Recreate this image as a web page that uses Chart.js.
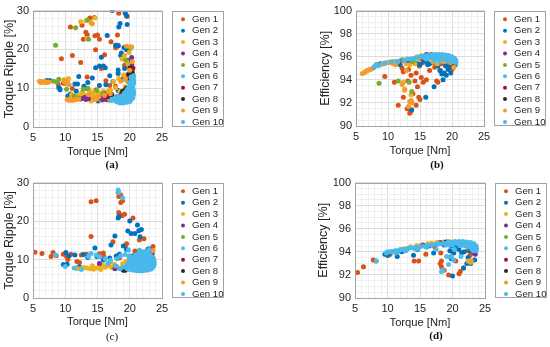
<!DOCTYPE html>
<html>
<head>
<meta charset="utf-8">
<script src="https://cdn.jsdelivr.net/npm/chart.js@4"></script>
<style>
body { margin: 0; background: #fff; width: 550px; height: 347px; position: relative; overflow: hidden; }
canvas { position: absolute; }
.cap { position: absolute; font-family: 'Liberation Serif', 'Times New Roman', serif; font-size: 11px; font-weight: bold; color: #111; transform: translate(-50%, -50%); }
</style>
</head>
<body>
<canvas id="pa" width="275" height="160" style="left:0;top:0"></canvas>
<canvas id="pb" width="275" height="160" style="left:275px;top:0"></canvas>
<canvas id="pc" width="275" height="160" style="left:0;top:172px"></canvas>
<canvas id="pd" width="275" height="160" style="left:275px;top:172px"></canvas>
<div class="cap" style="left:112px;top:164px">(a)</div>
<div class="cap" style="left:437px;top:164px">(b)</div>
<div class="cap" style="left:112px;top:336px;font-weight:normal">(c)</div>
<div class="cap" style="left:436px;top:335px">(d)</div>
<script>
Chart.defaults.font.family = "'Liberation Sans', Arial, sans-serif";
Chart.defaults.color = '#262626';

const gens = ['Gen 1', 'Gen 2', 'Gen 3', 'Gen 4', 'Gen 5', 'Gen 6', 'Gen 7', 'Gen 8', 'Gen 9', 'Gen 10'];
const colors = ['#D95319', '#0072BD', '#EDB120', '#7E2F8E', '#77AC30', '#4DBEEE', '#A2142F', '#2b2b2b', '#F59B2A', '#48B9EA'];

// (a) torque [Nm] vs torque ripple [%]
const rippleA = [
    [[18.3,29.3],[19.6,28.5],[13.8,28.1],[14.5,28.2],[12.6,26.2],[10.8,25.8],[13.2,24.4],[13.4,23.8],[14.6,23.5],[15.0,23.7],
     [12.8,22.6],[15.3,22.6],[17.1,22.0],[18.1,23.7],[18.2,21.1],[14.7,19.9],[17.8,20.4],[19.7,20.4],[11.1,18.4],[9.4,17.6],
     [16.1,18.6],[12.4,16.6],[15.6,15.1],[19.2,15.9],[13.4,12.9],[16.3,11.9],[8.9,11.1],[9.7,11.3],[10.2,11.2],[11.1,9.9],
     [14.8,9.6],[16.9,10.7],[16.4,8.8],[12.6,8.8],[15.3,7.5],[19.1,13.2],[20.0,12.6],[19.5,10.0],[17.8,10.5]],
    [[17.3,30.0],[19.3,29.3],[19.5,28.7],[18.5,26.7],[18.3,25.8],[19.6,26.4],[16.5,23.6],[17.8,21.1],[18.2,20.9],[19.1,20.5],
     [19.5,19.9],[18.7,19.1],[18.6,18.4],[15.6,18.0],[15.3,15.7],[15.9,15.7],[16.2,15.3],[14.7,15.3],[16.9,13.2],[18.2,14.7],
     [18.2,13.8],[12.1,13.0],[13.5,11.5],[11.5,11.1],[11.9,11.1],[7.6,12.0],[7.1,12.0],[9.0,10.2],[9.2,9.6],[9.1,9.9],
     [10.8,8.5],[10.4,8.0],[11.7,9.2],[13.3,9.9],[15.3,10.7],[16.3,10.9],[13.8,8.4],[15.1,6.7],[17.4,11.7],[18.7,12.2],
     [19.2,15.1],[19.7,17.2],[18.2,9.4],[16.8,9.2],[14.2,12.6],[12.9,10.5]],
    [[12.4,27.1],[13.2,27.4],[14.6,28.1],[13.4,22.8],[20.1,20.7],[19.2,18.4],[19.5,16.9],[18.8,17.5],[19.9,19.2],[17.5,11.7],
     [19.1,13.4],[18.3,12.5],[10.5,7.1],[10.9,7.5],[11.3,7.2],[11.6,7.8],[12.0,8.1],[12.3,7.4],[12.7,7.9],[13.1,8.2],
     [13.5,7.6],[13.8,7.2],[14.1,7.8],[14.3,8.4],[14.6,7.0],[14.8,7.6],[15.0,8.2],[15.1,8.9],[15.3,7.3],[15.5,8.0],
     [15.7,8.6],[15.9,9.2],[16.1,7.7],[16.4,8.4],[16.7,9.0],[17.0,9.5],[14.4,9.1],[13.7,9.4],[12.6,8.8],[11.0,8.4],
     [10.5,12.5],[10.4,11.9],[18.5,9.2],[19.3,10.4],[19.6,11.8],[20.2,14.2],[20.0,12.9],[17.8,10.1],[14.0,6.7],[15.6,6.9]],
    [[12.4,7.2],[12.8,7.4],[13.2,7.1],[13.6,7.3],[13.0,7.6],[15.8,7.0],[16.1,7.3],[16.4,7.0],[16.6,7.5],[16.9,7.2],
     [17.2,7.0],[16.3,7.8],[16.8,8.0],[17.4,7.6],[17.1,8.4],[16.0,8.6],[15.5,7.4],[17.6,7.1],[18.0,7.8],[20.3,17.9],
     [20.3,16.1],[20.1,15.2],[18.7,8.5],[19.7,9.2]],
    [[8.5,21.1],[11.6,25.6],[13.5,27.6],[13.6,22.6],[8.7,11.6],[9.0,12.3],[8.2,11.8],[10.2,9.7],[11.4,8.0],[12.1,7.5],
     [12.8,9.7],[13.5,10.0],[14.9,9.4],[16.9,6.9],[17.4,7.6],[18.9,8.6],[20.4,14.7],[20.1,20.3],[19.4,17.2],[15.8,8.6]],
    [[18.1,6.6],[18.5,6.2],[19.0,6.2],[19.6,6.4],[20.0,6.6],[20.3,7.8],[19.9,8.8],[20.4,10.2],[20.5,12.4],[17.3,6.9],
     [16.9,7.4],[18.7,7.2],[19.3,7.7],[20.6,9.3]],
    [[19.8,13.6],[20.3,14.1],[20.0,12.2],[19.3,9.6],[16.6,7.8],[20.5,15.2],[18.6,8.1]],
    [[19.9,13.4],[20.2,12.6],[20.4,14.0],[17.2,8.4],[19.5,10.0],[20.0,15.3],[18.9,9.2]],
    [[6.0,11.8],[6.3,11.7],[6.6,11.6],[6.9,11.5],[7.2,11.5],[7.5,11.6],[6.2,11.5],[6.8,11.8],[9.8,12.2],[10.1,12.0],
     [9.9,11.6],[10.3,11.3],[10.6,10.9],[10.3,7.0],[10.6,6.9],[10.9,6.9],[11.2,6.9],[11.5,7.0],[11.8,7.1],[12.1,7.2],
     [14.2,26.6],[14.0,26.9],[13.6,8.4],[14.5,7.5],[15.2,7.8],[16.1,8.2],[17.0,8.6],[19.5,20.8],[20.3,20.6],[19.7,16.3],
     [20.0,14.6],[18.6,11.8],[19.3,12.3],[20.4,16.8]],
    [[17.8,6.8],[18.0,6.5],[18.3,6.4],[18.6,6.3],[18.9,6.3],[19.2,6.4],[19.5,6.5],[19.8,6.7],[20.1,6.9],[20.3,7.2],
     [18.2,7.0],[18.6,6.9],[19.0,6.9],[19.4,7.0],[19.8,7.3],[20.2,7.6],[18.8,7.4],[19.2,7.5],[19.6,7.8],[20.0,8.0],
     [20.4,8.2],[19.3,8.1],[19.7,8.5],[20.1,8.7],[20.4,9.0],[19.5,9.0],[19.8,9.4],[20.2,9.6],[20.5,9.9],[19.9,10.2],
     [20.3,10.5],[20.5,10.9],[20.1,11.0],[20.4,11.5],[20.6,12.0],[20.3,12.2],[20.5,12.7],[20.6,13.2],[20.4,13.0],[17.5,7.2],
     [17.9,7.6],[18.4,7.8],[18.9,8.1],[19.2,8.8],[19.6,9.7],[19.9,11.4],[20.2,12.8],[20.6,11.3],[20.6,8.5],[20.5,7.6]]
];

// (b) torque [Nm] vs efficiency [%]
const effB = [
    [[9.5,94.3],[11.0,93.8],[11.6,91.8],[12.4,92.5],[13.1,93.9],[13.0,91.5],[13.4,91.1],[13.6,91.3],[13.6,94.4],[14.2,93.9],
     [14.4,94.6],[14.6,93.4],[14.8,92.5],[15.0,92.3],[14.4,91.8],[15.2,94.2],[15.5,93.8],[16.5,94.8],[17.1,95.5],[17.3,95.1],
     [17.6,93.9],[17.8,93.8],[18.2,94.8],[18.4,95.4],[13.2,94.9],[12.4,94.7],[11.7,95.4],[18.9,95.8],[19.4,95.4],[15.5,95.5],
     [14.9,95.2],[16.0,94.0],[13.9,92.8],[12.2,95.0],[19.8,95.3],[20.0,94.9]],
    [[8.2,95.3],[8.8,95.4],[13.6,95.6],[14.2,95.45],[14.6,95.4],[15.2,95.5],[16.0,95.6],[16.5,95.4],[17.0,95.9],[17.7,95.9],
     [17.8,95.2],[18.1,94.8],[18.4,94.5],[18.8,94.6],[19.0,95.2],[19.1,94.4],[19.4,94.9],[19.6,95.1],[19.9,95.5],[20.3,95.2],
     [18.6,95.8],[17.2,93.4],[15.9,92.5],[13.7,91.4],[11.9,95.3],[15.0,95.3],[16.2,95.3],[18.6,94.0],[19.8,94.6],[20.5,95.3]],
    [[11.5,95.6],[12.0,95.7],[12.8,95.4],[13.4,95.3],[12.4,93.8],[12.6,93.2],[13.6,92.7],[13.7,92.1],[14.0,95.8],[14.5,96.0],
     [14.9,96.0],[15.3,96.1],[15.6,95.9],[15.0,95.75],[16.0,96.0],[17.0,95.6],[17.7,95.4],[19.2,95.7],[20.2,95.4],[10.8,95.6],
     [14.2,95.4]],
    [[16.0,96.2],[16.4,96.15],[16.8,96.2],[16.2,96.0],[16.6,95.95],[17.1,96.1],[12.2,95.7],[13.1,95.7],[15.4,95.8],[19.9,95.6],
     [20.2,95.7],[18.5,95.9]],
    [[8.6,93.7],[11.6,93.9],[13.3,93.8],[13.7,93.0],[8.0,95.2],[9.4,95.4],[13.8,95.6],[15.5,95.95],[17.6,96.05],[19.5,95.9],
     [20.3,95.5],[12.3,95.75]],
    [[8.3,95.3],[9.0,95.35],[11.3,95.6],[13.0,95.8],[16.0,95.8],[18.0,95.6],[19.0,95.6],[20.5,95.4],[17.2,95.7]],
    [[17.6,96.1],[19.6,95.8],[18.9,96.0],[20.4,95.6]],
    [[17.9,96.1],[20.3,95.3],[18.3,95.9],[16.9,96.1]],
    [[6.0,94.55],[6.2,94.6],[6.4,94.68],[6.6,94.75],[6.8,94.8],[7.0,94.85],[7.2,94.9],[7.4,94.95],[7.7,95.02],[9.3,95.4],
     [9.6,95.45],[9.9,95.5],[10.2,95.5],[10.5,95.55],[10.8,95.4],[11.2,95.3],[12.2,93.6],[12.6,93.1],[13.4,92.1],[13.6,92.2],
     [13.2,91.7],[13.8,92.0],[12.9,94.8],[14.8,95.9],[15.2,96.0],[16.5,96.1],[18.6,95.6],[19.8,95.5],[20.3,95.1]],
    [[14.5,95.9],[15.0,96.0],[15.5,96.05],[16.0,96.1],[16.5,96.15],[17.0,96.2],[17.5,96.2],[18.0,96.2],[18.5,96.2],[19.0,96.15],
     [19.5,96.1],[20.0,96.0],[20.4,95.85],[20.6,95.7],[20.6,95.5],[15.8,95.9],[16.3,95.95],[16.8,96.0],[17.3,96.05],[17.8,96.05],
     [18.3,96.05],[18.8,96.0],[19.3,95.95],[19.8,95.85],[20.2,95.7],[20.4,95.55],[17.5,95.85],[18.0,95.85],[18.5,95.8],[19.0,95.8],
     [19.5,95.7],[20.0,95.6],[16.5,95.9],[17.0,95.9],[13.5,95.8],[14.0,95.85],[12.5,95.7],[11.5,95.6],[10.5,95.55],[9.5,95.45],
     [8.5,95.25],[7.8,95.1]]
];

// (c) torque [Nm] vs torque ripple [%]
const rippleC = [
    [[5.3,11.9],[6.4,11.6],[8.1,11.8],[7.8,10.8],[8.6,11.0],[9.7,11.4],[10.2,10.8],[10.4,10.0],[10.9,11.4],[11.8,9.5],
     [12.5,11.2],[13.3,11.4],[14.0,25.0],[14.8,25.3],[14.0,16.0],[15.3,11.5],[15.9,11.7],[17.4,14.6],[18.2,27.5],[18.3,26.4],
     [18.6,26.8],[18.9,25.3],[18.6,24.8],[18.3,22.2],[18.4,21.8],[19.2,21.8],[20.5,20.8],[19.5,14.1],[19.3,13.6],[22.2,15.4],
     [21.5,15.1],[20.8,12.2],[23.4,11.1],[23.6,13.4],[20.2,10.7],[18.4,10.4],[19.5,9.1],[12.2,9.2],[16.0,10.8],[18.8,21.4]],
    [[9.7,8.7],[10.3,8.8],[10.1,11.8],[10.6,11.0],[11.5,11.2],[12.8,11.3],[13.5,10.5],[14.6,13.0],[16.9,10.4],[15.9,9.9],
     [17.7,16.1],[18.2,20.8],[18.3,21.2],[20.0,20.0],[19.7,17.4],[20.2,16.8],[21.2,19.0],[21.4,17.5],[20.8,16.8],[21.6,15.9],
     [19.5,12.6],[22.8,12.7],[17.1,13.8],[18.4,11.4],[11.8,7.8],[12.2,8.1],[21.8,17.8],[19.0,13.5],[17.9,10.9],[22.5,12.0],
     [23.0,12.8],[23.3,10.5],[20.5,11.0],[14.9,10.8]],
    [[11.8,7.7],[12.4,7.6],[12.9,7.9],[13.4,7.8],[13.9,7.6],[14.4,7.5],[14.9,7.8],[15.3,8.2],[15.8,8.6],[16.2,8.0],
     [16.7,8.4],[17.2,7.9],[17.6,8.7],[18.0,8.2],[18.4,7.7],[18.9,8.9],[19.4,9.4],[19.8,9.8],[20.2,8.6],[20.7,9.2],
     [21.2,10.4],[21.6,9.0],[22.1,11.4],[22.6,12.1],[23.0,10.6],[23.4,9.4],[14.2,8.4],[15.5,7.4],[17.0,9.3],[19.0,7.6]],
    [[15.3,9.0],[17.7,7.6],[19.1,7.4],[20.4,8.0],[21.9,8.5],[22.7,9.9],[23.5,11.7],[23.2,8.2],[21.1,7.8]],
    [[22.4,10.9],[21.6,8.4],[20.9,9.6]],
    [[18.2,28.1],[18.3,27.4],[18.9,26.0],[14.0,11.6],[14.8,11.2],[13.6,10.8],[8.5,11.2],[10.0,8.2],[11.4,7.8],[12.5,7.4],
     [15.3,10.7],[16.2,10.2],[18.6,11.0],[19.3,11.3],[19.9,10.6],[17.0,9.8]],
    [[20.8,9.6],[22.6,11.8],[21.8,10.4],[23.2,9.9]],
    [[19.0,7.2],[19.3,7.2],[22.6,11.3],[23.3,11.0],[21.4,8.8],[22.0,10.1]],
    [[23.4,7.9],[22.8,8.4],[23.6,12.3],[21.0,8.0],[19.6,8.1],[23.7,10.3]],
    [[19.6,7.6],[20.0,7.4],[20.4,7.3],[20.8,7.2],[21.2,7.1],[21.6,7.1],[22.0,7.1],[22.4,7.2],[22.8,7.3],[23.2,7.5],
     [23.5,7.8],[23.7,8.3],[23.8,8.8],[23.8,9.4],[23.7,10.0],[23.5,10.6],[23.2,11.1],[22.8,11.5],[22.4,11.8],[22.0,12.0],
     [21.6,11.8],[21.2,11.4],[20.8,10.9],[20.4,10.3],[20.0,9.6],[19.7,8.9],[19.5,8.2],[20.6,8.2],[21.0,8.0],[21.4,7.9],
     [21.8,7.9],[22.2,8.0],[22.6,8.1],[23.0,8.3],[23.3,8.6],[23.4,9.2],[23.3,9.8],[23.0,10.3],[22.6,10.7],[22.2,11.0],
     [21.8,10.9],[21.4,10.6],[21.0,10.1],[20.7,9.5],[20.4,8.9],[21.0,9.0],[21.5,8.8],[22.0,8.9],[22.5,9.1],[22.9,9.4],
     [22.5,9.8],[22.0,10.1],[21.5,9.8],[22.0,9.5],[21.4,9.3],[22.6,8.6],[20.3,7.9],[19.9,8.4],[22.9,12.3],[21.5,12.4],
     [18.5,7.6],[18.9,8.0],[17.8,8.3],[16.6,9.0],[20.0,11.0],[19.8,12.5],[18.0,10.2],[23.0,12.6]]
];

// (d) torque [Nm] vs efficiency [%]
const effD = [
    [[5.4,92.2],[6.3,92.7],[7.8,93.3],[8.2,93.2],[10.1,93.7],[10.4,93.8],[14.1,93.2],[14.8,93.2],[15.9,93.8],[18.1,93.0],
     [18.3,93.2],[18.3,92.7],[18.7,92.4],[19.4,92.0],[20.5,93.2],[21.0,92.1],[21.2,92.3],[21.7,92.6],[22.4,94.1],[18.2,93.9],
     [19.6,94.6],[21.3,94.6],[22.7,93.7],[23.2,94.4],[20.0,94.0],[17.3,94.4],[12.5,94.2],[11.5,94.0],[23.0,94.0],[22.1,94.5]],
    [[9.6,93.8],[10.0,93.7],[10.3,93.9],[11.5,93.6],[12.2,94.0],[14.0,93.7],[14.6,94.2],[17.1,93.9],[19.1,94.7],[19.9,94.5],
     [20.0,91.9],[20.6,94.6],[21.0,94.2],[21.4,93.9],[21.7,92.6],[22.2,93.0],[22.4,93.5],[22.7,94.1],[22.9,94.6],[23.4,93.3],
     [20.2,93.9],[20.4,94.3],[19.6,94.1],[18.7,94.6],[21.8,94.0],[16.4,94.5],[22.8,93.0],[19.8,93.4]],
    [[13.5,94.45],[14.5,94.55],[15.2,94.6],[16.2,94.7],[16.8,94.75],[17.6,94.8],[18.6,94.85],[19.4,94.9],[22.4,93.2],[22.8,93.1],
     [23.0,94.6],[15.8,94.5]],
    [[15.5,94.6],[18.1,94.8],[23.3,93.9],[22.9,94.4],[23.5,93.8]],
    [[21.5,94.8]],
    [[8.3,93.2],[10.0,94.0],[10.6,94.0],[18.3,92.3],[18.5,92.4],[19.4,92.9],[19.1,93.6],[20.3,94.2],[11.2,94.1],[12.0,94.2],
     [13.0,94.3],[14.2,94.3],[17.5,94.2],[21.3,93.6]],
    [[22.5,94.5]],
    [[19.0,94.85],[18.9,94.75]],
    [[12.4,94.25],[16.6,94.65],[17.8,94.7],[22.9,93.2],[23.2,94.2]],
    [[9.8,93.9],[10.5,94.0],[11.0,94.05],[11.5,94.1],[12.0,94.15],[12.6,94.2],[13.2,94.3],[13.8,94.35],[14.4,94.4],[15.0,94.45],
     [15.6,94.5],[16.2,94.55],[16.8,94.6],[17.4,94.65],[18.0,94.7],[18.6,94.75],[19.2,94.8],[19.8,94.85],[20.4,94.9],[21.0,94.9],
     [21.6,94.9],[22.2,94.85],[22.8,94.8],[23.3,94.7],[23.6,94.5],[23.7,94.3],[23.6,94.1],[20.2,94.75],[20.8,94.7],[21.4,94.75],
     [22.0,94.7],[22.6,94.6],[23.1,94.5],[23.4,94.3],[21.2,94.55],[21.8,94.55],[22.4,94.45],[22.9,94.3],[19.5,94.6],[19.0,94.6],
     [20.0,94.6],[23.2,94.1],[19.8,93.6],[19.6,93.55],[20.2,93.3],[16.0,94.4],[14.6,94.25],[12.8,94.1],[11.3,93.9]]
];

const boxLegend = {
    id: 'boxLegend',
    afterDraw(chart) {
        const { ctx, chartArea: a } = chart;
        const x = a.right + 10, y = a.top, w = 51, h = a.bottom - a.top - 1.5;

        ctx.save();
        ctx.lineWidth = 1;
        ctx.strokeStyle = '#a3a3a3';
        ctx.strokeRect(Math.round(a.left) + 0.5, Math.round(a.top) + 0.5, Math.round(a.width), Math.round(a.height));

        ctx.fillStyle = '#fff';
        ctx.fillRect(x, y, w, h);
        ctx.strokeRect(Math.round(x) + 0.5, Math.round(y) + 0.5, w, Math.round(h));

        ctx.font = "9.6px 'Liberation Sans', Arial, sans-serif";
        ctx.textBaseline = 'middle';
        gens.forEach((g, i) => {
            const cy = y + 8.7 + i * 11.4;
            ctx.fillStyle = colors[i];
            ctx.beginPath();
            ctx.arc(x + 11, cy, 2, 0, Math.PI * 2);
            ctx.fill();
            ctx.fillStyle = '#262626';
            ctx.fillText(g, x + 20, cy);
        });
        ctx.restore();
    }
};

const panel = (id, series, yTitle, y, pad) => new Chart(id, {
    type: 'scatter',
    data: {
        datasets: series.map((pts, i) => ({
            label: gens[i],
            data: pts.map(([px, py]) => ({ x: px, y: py })),
            pointRadius: 2.5,
            pointBorderWidth: 0,
            pointBackgroundColor: colors[i],
            order: 9 - i,
        })),
    },
    options: {
        responsive: false,
        animation: false,
        events: [],
        devicePixelRatio: 1,
        layout: { padding: { left: pad.left, right: pad.right, top: pad.top, bottom: 0 } },
        plugins: { legend: { display: false }, tooltip: { enabled: false } },
        scales: {
            x: {
                type: 'linear',
                min: 5,
                max: 25,
                afterFit: s => { s.height = pad.xh; },
                border: { display: false },
                grid: {
                    drawTicks: false,
                    color: c => c.tick.value % 5 === 0 ? '#dcdcdc' : '#efefef',
                },
                ticks: {
                    stepSize: 1,
                    autoSkip: false,
                    maxRotation: 0,
                    padding: 4,
                    font: { size: 11 },
                    callback: v => v % 5 === 0 ? v : '',
                },
                title: {
                    display: true,
                    text: 'Torque [Nm]',
                    font: { size: 11.2 },
                    padding: { top: 0, bottom: pad.tb },
                },
            },
            y: {
                type: 'linear',
                min: y.min,
                max: y.max,
                afterFit: s => { s.width = pad.yw; },
                border: { display: false },
                grid: {
                    drawTicks: false,
                    color: c => Math.abs(c.tick.value % y.major) < 1e-6 ? '#dcdcdc' : '#efefef',
                },
                ticks: {
                    stepSize: y.minor,
                    autoSkip: false,
                    padding: 4,
                    font: { size: 11 },
                    callback: v => Math.abs(v % y.major) < 1e-6 ? v : '',
                },
                title: {
                    display: true,
                    text: yTitle,
                    font: { size: 12.5 },
                    padding: 2.5,
                },
            },
        },
    },
    plugins: [boxLegend],
});

const rippleAxis = { min: 0, max: 30, minor: 2, major: 10 };
const effAxis = { min: 90, max: 100, minor: 0.5, major: 2 };

panel('pa', rippleA, 'Torque Ripple [%]', rippleAxis, { left: 0, right: 113, top: 7, xh: 33, yw: 33, tb: 1.6 });
panel('pb', effB, 'Efficiency [%]', effAxis, { left: 41, right: 66, top: 9, xh: 34, yw: 40, tb: 2.3 });
panel('pc', rippleC, 'Torque Ripple [%]', rippleAxis, { left: 0, right: 113, top: 7, xh: 34, yw: 33, tb: 3.3 });
panel('pd', effD, 'Efficiency [%]', effAxis, { left: 39, right: 65, top: 6, xh: 34, yw: 41, tb: 2.6 });
</script>
</body>
</html>
